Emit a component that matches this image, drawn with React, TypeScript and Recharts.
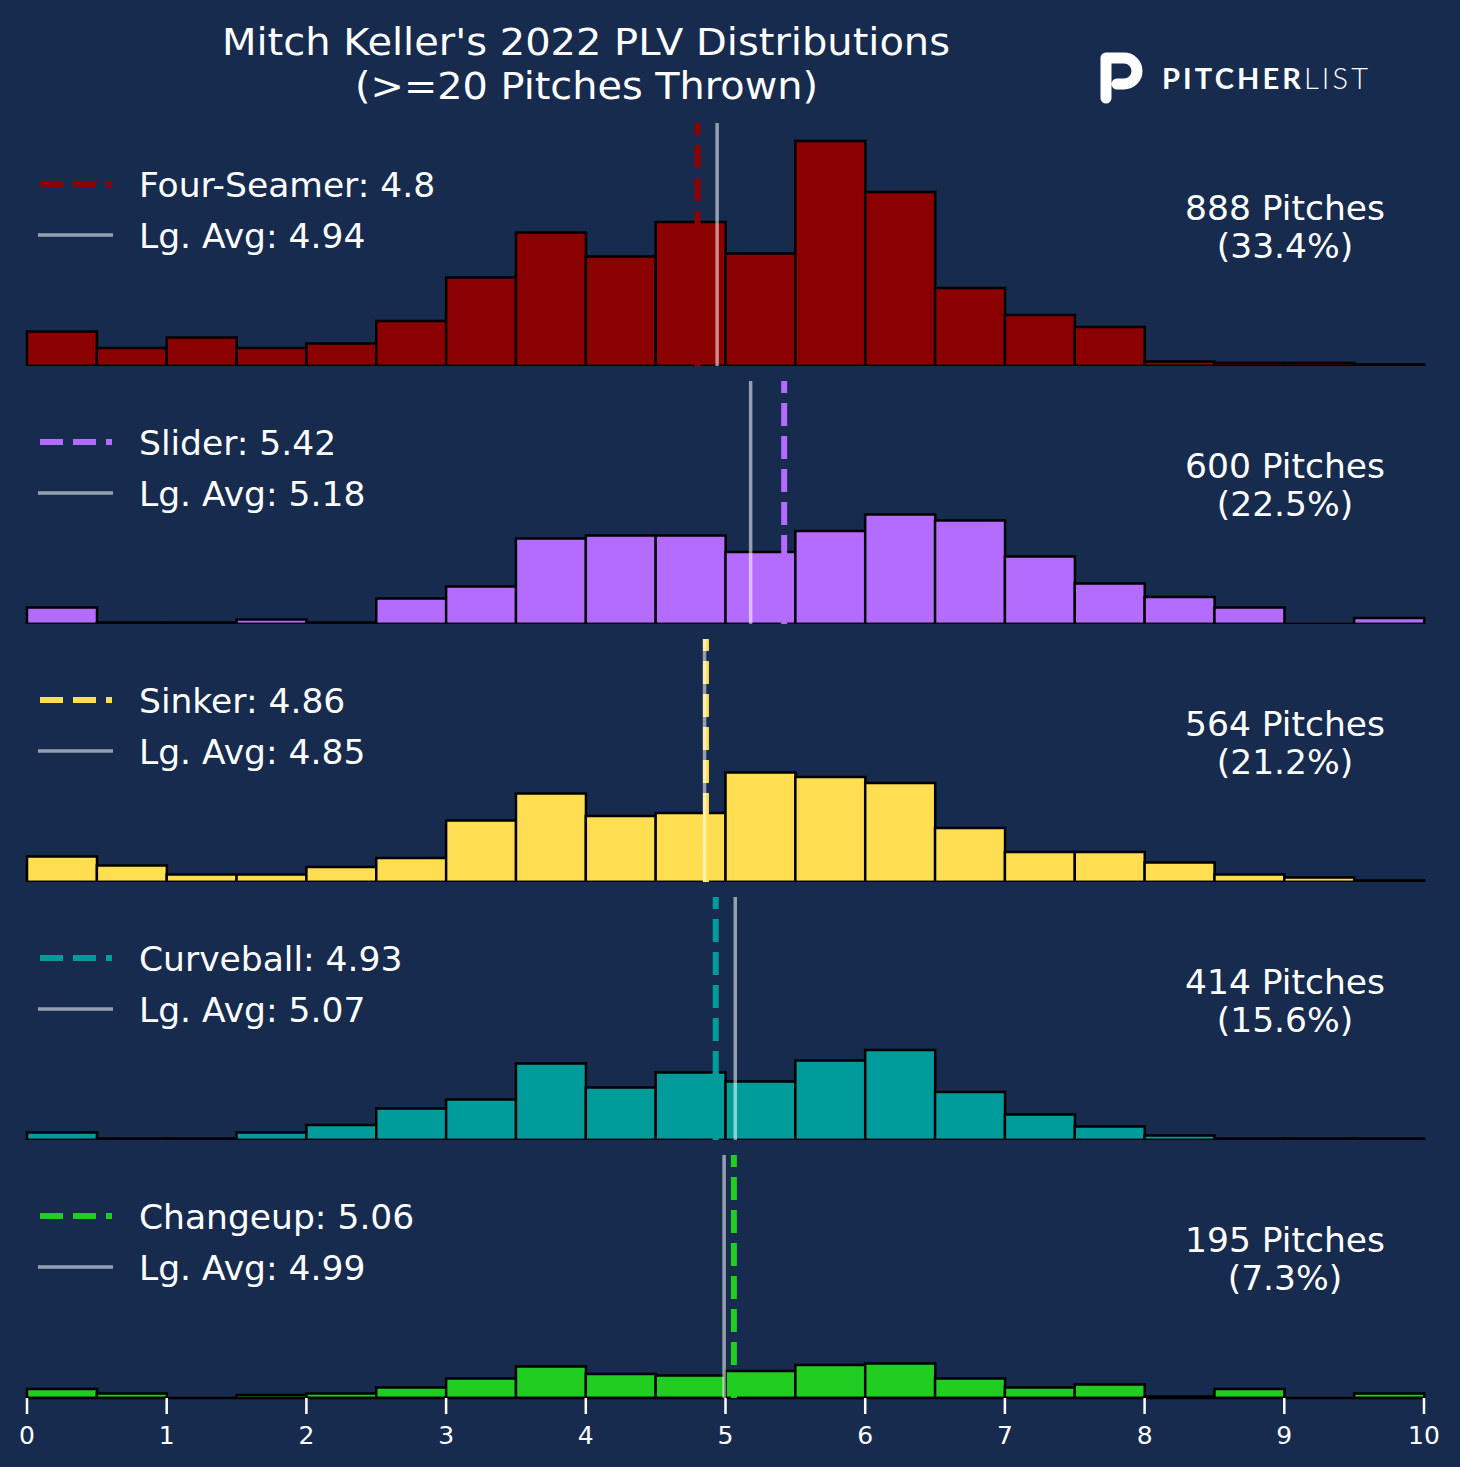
import React from 'react';
import { ComposedChart, Bar, XAxis, YAxis, ReferenceLine } from 'recharts';

const BIN_STARTS = [0, 0.5, 1, 1.5, 2, 2.5, 3, 3.5, 4, 4.5, 5, 5.5, 6, 6.5, 7, 7.5, 8, 8.5, 9, 9.5];
const FOUR_SEAMER = [23, 12, 19, 12, 15, 30, 59, 89, 73, 96, 75, 150, 116, 52, 34, 26, 3, 2, 2, 1];
const SLIDER = [11, 1, 1, 3, 1, 17, 25, 57, 59, 59, 48, 62, 73, 69, 45, 27, 18, 11, 0, 4];
const SINKER = [17, 11, 5, 5, 10, 16, 41, 59, 44, 46, 73, 70, 66, 36, 20, 20, 13, 5, 3, 1];
const CURVEBALL = [5, 1, 1, 5, 10, 21, 27, 51, 35, 45, 39, 53, 60, 32, 17, 9, 3, 1, 1, 1];
const CHANGEUP = [6, 3, 0, 2, 3, 7, 13, 21, 16, 15, 18, 22, 23, 13, 7, 9, 1, 6, 0, 3];

const PITCH_NAMES = ['Four-Seamer', 'Slider', 'Sinker', 'Curveball', 'Changeup'];
const PITCH_MEANS = [4.8, 5.42, 4.86, 4.93, 5.06];
const LG_AVGS = [4.94, 5.18, 4.85, 5.07, 4.99];
const PITCH_COUNTS = [888, 600, 564, 414, 195];
const PITCH_PCTS = ['33.4%', '22.5%', '21.2%', '15.6%', '7.3%'];
const COLORS = ['#8b0000', '#b46cff', '#ffde52', '#009b9b', '#22cd22'];
const SERIES = [FOUR_SEAMER, SLIDER, SINKER, CURVEBALL, CHANGEUP];
const X_TICKS = [0, 1, 2, 3, 4, 5, 6, 7, 8, 9, 10];
const Y_MAX = 162;

const BG = '#172b4e';
const FONT = '"DejaVu Sans", sans-serif';
const W = 1460;
const PLOT_H = 243;
const PANEL_STEP = 258;
const FIRST_TOP = 123;
const MARGIN = { top: 0, right: 36, bottom: 0, left: 27 };

function Panel({ idx }: { idx: number }) {
  const values = SERIES[idx];
  const data = BIN_STARTS.map((b, i) => ({ bin: String(b), x: b, count: values[i] }));
  const last = idx === SERIES.length - 1;
  const height = last ? PLOT_H + 60 : PLOT_H;
  return (
    <div style={{ position: 'absolute', left: 0, top: FIRST_TOP + idx * PANEL_STEP }}>
      <ComposedChart width={W} height={height} data={data} margin={MARGIN} barCategoryGap={0} barGap={0}>
        <XAxis xAxisId="cat" dataKey="bin" type="category" hide height={0} />
        <XAxis
          xAxisId="num"
          dataKey="x"
          type="number"
          domain={[0, 10]}
          allowDataOverflow
          ticks={X_TICKS}
          hide={!last}
          height={last ? 60 : 0}
          axisLine={false}
          tickLine={{ stroke: '#ffffff', strokeWidth: 2.5 }}
          tickSize={16}
          tickMargin={12}
          tick={{ fill: '#ffffff', fontSize: 25, fontFamily: FONT }}
          interval={0}
        />
        <YAxis type="number" domain={[0, Y_MAX]} hide allowDataOverflow />
        <Bar
          xAxisId="cat"
          dataKey="count"
          fill={COLORS[idx]}
          stroke="#000000"
          strokeWidth={2.5}
          isAnimationActive={false}
        />
        <ReferenceLine xAxisId="cat" y={0} stroke="#000000" strokeWidth={2.5} />
        <ReferenceLine
          xAxisId="num"
          x={PITCH_MEANS[idx]}
          stroke={COLORS[idx]}
          strokeWidth={6}
          strokeDasharray="23 10"
        />
        <ReferenceLine
          xAxisId="num"
          x={LG_AVGS[idx]}
          stroke="#ffffff"
          strokeOpacity={0.55}
          strokeWidth={3.5}
        />
      </ComposedChart>
    </div>
  );
}

function Overlay() {
  return (
    <svg
      width={W}
      height={1467}
      style={{ position: 'absolute', left: 0, top: 0, pointerEvents: 'none' }}
    >
      <text
        x={222}
        y={55}
        fill="#ffffff"
        fontSize={37}
        fontFamily={FONT}
        textLength={728}
        lengthAdjust="spacingAndGlyphs"
      >
        Mitch Keller's 2022 PLV Distributions
      </text>
      <text
        x={355}
        y={99}
        fill="#ffffff"
        fontSize={37}
        fontFamily={FONT}
        textLength={463}
        lengthAdjust="spacingAndGlyphs"
      >
        (&gt;=20 Pitches Thrown)
      </text>
      {/* logo */}
      <path
        d="M1106,98 L1106,58 L1124,58 A13,13 0 0 1 1124,84 L1117,84"
        fill="none"
        stroke="#ffffff"
        strokeWidth={11}
        strokeLinecap="round"
        strokeLinejoin="round"
      />
      <text
        x={1162}
        y={89}
        fill="#ffffff"
        fontSize={29}
        fontFamily="Lato, sans-serif"
        textLength={206}
        lengthAdjust="spacing"
      >
        <tspan fontWeight={700}>PITCHER</tspan>
        <tspan fontWeight={300}>LIST</tspan>
      </text>
      {PITCH_NAMES.map((name, i) => {
        const off = i * PANEL_STEP;
        return (
          <g key={name}>
            <line
              x1={40}
              x2={112}
              y1={184 + off}
              y2={184 + off}
              stroke={COLORS[i]}
              strokeWidth={6}
              strokeDasharray="23 10"
            />
            <line
              x1={38}
              x2={113}
              y1={235 + off}
              y2={235 + off}
              stroke="#ffffff"
              strokeOpacity={0.55}
              strokeWidth={3.5}
            />
            <text x={139} y={197 + off} fill="#ffffff" fontSize={34.5} fontFamily={FONT}>
              {`${name}: ${PITCH_MEANS[i]}`}
            </text>
            <text x={139} y={248 + off} fill="#ffffff" fontSize={34.5} fontFamily={FONT}>
              {`Lg. Avg: ${LG_AVGS[i]}`}
            </text>
            <text x={1285} y={220 + off} textAnchor="middle" fill="#ffffff" fontSize={34.5} fontFamily={FONT}>
              {`${PITCH_COUNTS[i]} Pitches`}
            </text>
            <text x={1285} y={258 + off} textAnchor="middle" fill="#ffffff" fontSize={34.5} fontFamily={FONT}>
              {`(${PITCH_PCTS[i]})`}
            </text>
          </g>
        );
      })}
    </svg>
  );
}

export default function App() {
  return (
    <div
      style={{
        position: 'absolute',
        left: 0,
        top: 0,
        width: W,
        height: 1467,
        background: BG,
        overflow: 'hidden',
      }}
    >
      {SERIES.map((_, i) => (
        <Panel key={i} idx={i} />
      ))}
      <Overlay />
    </div>
  );
}
